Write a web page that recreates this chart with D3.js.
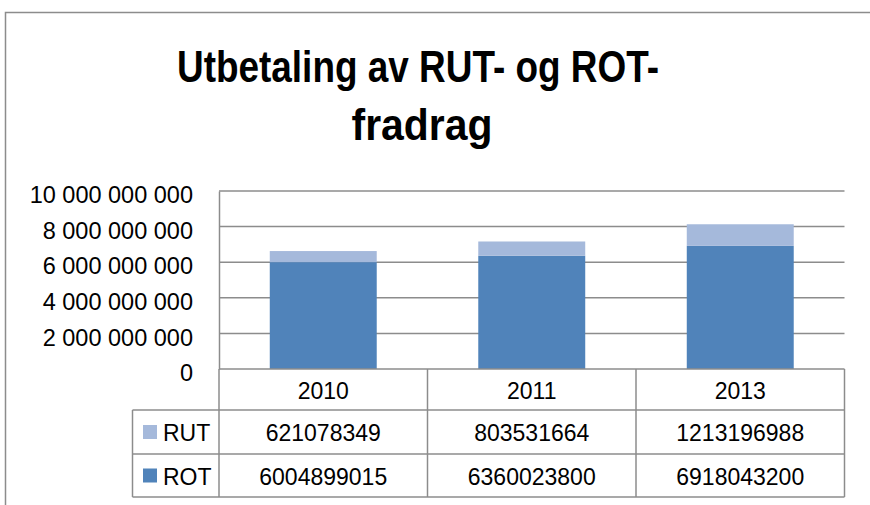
<!DOCTYPE html>
<html>
<head>
<meta charset="utf-8">
<script src="https://cdn.jsdelivr.net/npm/d3@7"></script>
<style>
  body { margin: 0; background: #fff; }
  text { font-family: "Liberation Sans", Arial, sans-serif; fill: #000; }
</style>
</head>
<body>
<div id="chart"></div>
<script>
var years = ["2010", "2011", "2013"];
var rot = [6004899015, 6360023800, 6918043200];
var rut = [621078349, 803531664, 1213196988];
var seriesNames = ["RUT", "ROT"];
var seriesColors = ["#a5b9db", "#5083ba"];
var yTicks = [0, 2000000000, 4000000000, 6000000000, 8000000000, 10000000000];

var width = 870, height = 505;
var margin = {top: 191, left: 219, right: 25.5, bottom: 136};
var plotH = height - margin.top - margin.bottom;   // 178
var plotRight = width - margin.right;

var svg = d3.select("#chart").append("svg")
    .attr("width", width)
    .attr("height", height);

// outer chart frame (cropped at right and bottom)
svg.append("path")
    .attr("d", "M5.5," + height + "V12.5H" + width)
    .attr("fill", "none")
    .attr("stroke", "#8c8c8c")
    .attr("stroke-width", 1.5);

// title
var title = svg.append("text")
    .attr("text-anchor", "middle")
    .style("font-weight", "bold")
    .style("font-size", "44px");
title.append("tspan").attr("x", 418).attr("y", 82)
    .attr("textLength", 482).attr("lengthAdjust", "spacingAndGlyphs")
    .text("Utbetaling av RUT- og ROT-");
title.append("tspan").attr("x", 422).attr("y", 140)
    .attr("textLength", 141).attr("lengthAdjust", "spacingAndGlyphs")
    .text("fradrag");

var y = d3.scaleLinear().domain([0, 10000000000]).range([margin.top + plotH, margin.top]);
var x = d3.scaleBand().domain(years).range([margin.left, plotRight])
    .paddingInner(0.487).paddingOuter(0.2435);
var cell = d3.scaleBand().domain(years).range([margin.left, plotRight]);

var fmt = d3.formatLocale({decimal: ",", thousands: " ", grouping: [3], currency: ["", ""]}).format(",");

// gridlines
svg.append("g").selectAll("line")
    .data(yTicks.slice(1))
    .enter().append("line")
    .attr("x1", margin.left).attr("x2", plotRight)
    .attr("y1", function(d) { return y(d); })
    .attr("y2", function(d) { return y(d); })
    .attr("stroke", "#8c8c8c")
    .attr("stroke-width", 1.5);

// y axis
var yAxis = svg.append("g")
    .attr("transform", "translate(" + margin.left + ",0)")
    .call(d3.axisLeft(y).tickValues(yTicks).tickFormat(fmt).tickSize(0).tickPadding(26));
yAxis.select(".domain").attr("stroke", "#8c8c8c").attr("stroke-width", 1.5);
yAxis.selectAll("text")
    .style("font-size", "23.5px")
    .attr("dy", "0.5em")
    .attr("font-family", null);

// stacked bars
var stackData = years.map(function(yr, i) { return {year: yr, ROT: rot[i], RUT: rut[i]}; });
var stacked = d3.stack().keys(["ROT", "RUT"])(stackData);
var colorOf = {ROT: seriesColors[1], RUT: seriesColors[0]};

svg.append("g").selectAll("g")
    .data(stacked)
    .enter().append("g")
    .attr("fill", function(s) { return colorOf[s.key]; })
    .selectAll("rect")
    .data(function(s) { return s; })
    .enter().append("rect")
    .attr("x", function(d) { return x(d.data.year); })
    .attr("width", x.bandwidth())
    .attr("y", function(d) { return y(d[1]); })
    .attr("height", function(d) { return y(d[0]) - y(d[1]); });

// data table
var tableTop = margin.top + plotH;  // 369
var rowH = [41, 44, 43];
var rowY = [tableTop, tableTop + rowH[0], tableTop + rowH[0] + rowH[1], tableTop + rowH[0] + rowH[1] + rowH[2]];
var legendLeft = 132.5;
var tbl = svg.append("g")
    .attr("fill", "none")
    .attr("stroke", "#8c8c8c")
    .attr("stroke-width", 1.5);

// horizontal lines
tbl.append("line").attr("x1", margin.left).attr("x2", plotRight).attr("y1", rowY[0]).attr("y2", rowY[0]);
[1, 2, 3].forEach(function(i) {
  tbl.append("line").attr("x1", legendLeft).attr("x2", plotRight).attr("y1", rowY[i]).attr("y2", rowY[i]);
});
// vertical lines
tbl.append("line").attr("x1", legendLeft).attr("x2", legendLeft).attr("y1", rowY[1]).attr("y2", rowY[3]);
years.forEach(function(yr) {
  tbl.append("line").attr("x1", cell(yr)).attr("x2", cell(yr)).attr("y1", rowY[0]).attr("y2", rowY[3]);
});
tbl.append("line").attr("x1", plotRight).attr("x2", plotRight).attr("y1", rowY[0]).attr("y2", rowY[3]);

// header years
svg.append("g").selectAll("text")
    .data(years)
    .enter().append("text")
    .attr("text-anchor", "middle")
    .style("font-size", "23px")
    .attr("x", function(d) { return cell(d) + cell.bandwidth() / 2; })
    .attr("y", rowY[0] + 30)
    .text(function(d) { return d; });

// series rows
var rows = [{name: "RUT", values: rut, color: seriesColors[0]},
            {name: "ROT", values: rot, color: seriesColors[1]}];
rows.forEach(function(r, ri) {
  var top = rowY[ri + 1], h = rowH[ri + 1];
  svg.append("rect")
      .attr("x", 143).attr("y", top + h / 2 - 7)
      .attr("width", 14).attr("height", 14)
      .attr("fill", r.color);
  svg.append("text")
      .attr("x", 163).attr("y", top + h / 2 + 9)
      .style("font-size", "23px")
      .text(r.name);
  svg.append("g").selectAll("text")
      .data(r.values)
      .enter().append("text")
      .attr("text-anchor", "middle")
      .style("font-size", "23px")
      .attr("x", function(d, i) { return cell(years[i]) + cell.bandwidth() / 2; })
      .attr("y", top + h / 2 + 9)
      .text(function(d) { return d; });
});
</script>
</body>
</html>
